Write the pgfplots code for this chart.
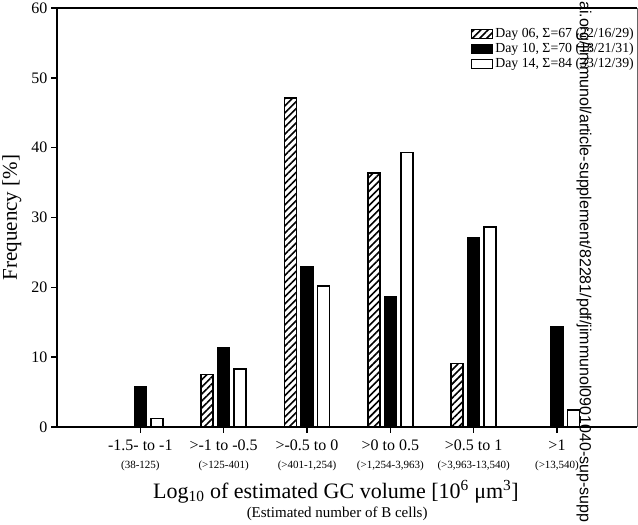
\documentclass[border=0pt]{standalone}
\usepackage{fontspec}
\setmainfont{Liberation Serif}
\newfontfamily\wmfont{Liberation Sans}
\usepackage{pgfplots}
\usepackage{pgfplotstable}
\pgfplotsset{compat=1.18}
\usetikzlibrary{patterns.meta}

% percent of GCs per volume class (x = class index)
\pgfplotstableread{
x d06 d10 d14
0 0 5.7 1.2
1 7.5 11.4 8.3
2 47.1 22.9 20.2
3 36.4 18.6 39.3
4 9.1 27.1 28.6
5 0 14.3 2.4
}\freq

\pgfplotsset{
  boxleg/.style={legend image code/.code={%
    \draw[##1, line width=1pt] (0pt,-4.5pt) rectangle (21pt,4.5pt);}},
}

\begin{document}
\begin{tikzpicture}
\begin{axis}[
  scale only axis, width=580pt, height=419pt,
  clip=false,
  axis x line*=bottom, axis y line*=left,
  axis line style={line width=1.8pt},
  xmin=-1, xmax=5.96, ymin=0, ymax=60,
  ytick={0,10,...,60},
  xtick={0,...,5},
  xticklabels={
    {-1.5- to -1\\[1pt]{\fontsize{11}{12}\selectfont (38-125)}},
    {>-1 to -0.5\\[1pt]{\fontsize{11}{12}\selectfont (>125-401)}},
    {>-0.5 to 0\\[1pt]{\fontsize{11}{12}\selectfont (>401-1,254)}},
    {>0 to 0.5\\[1pt]{\fontsize{11}{12}\selectfont (>1,254-3,963)}},
    {>0.5 to 1\\[1pt]{\fontsize{11}{12}\selectfont (>3,963-13,540)}},
    {>1\\[1pt]{\fontsize{11}{12}\selectfont (>13,540)}}},
  xticklabel style={align=center, font=\fontsize{16}{17}\selectfont, yshift=-3pt},
  yticklabel style={font=\fontsize{16}{18}\selectfont},
  /pgf/number format/assume math mode=true,
  tick align=outside, major tick length=6pt,
  tick style={black, line width=1.5pt},
  ylabel={Frequency [\%]},
  every axis y label/.style={at={(axis description cs:-0.078,0.5)},
    rotate=90, anchor=center, font=\fontsize{21}{23}\selectfont},
  xlabel={Log\textsubscript{10} of estimated GC volume [10\textsuperscript{6} μm\textsuperscript{3}]},
  every axis x label/.style={at={(axis description cs:0.481,0)},
    anchor=center, yshift=-65pt, font=\fontsize{22}{24}\selectfont},
  ybar=4.5pt, bar width=12pt,
  legend style={draw=none, fill=none, at={(1,1)}, anchor=north east,
    yshift=-17pt, xshift=0pt, inner sep=1pt,
    font=\fontsize{13.8}{16}\selectfont, row sep=0pt,
    /tikz/every even column/.append style={column sep=2pt}},
  legend cell align=left,
]
\addplot[boxleg, draw=black, line width=1.6pt,
  pattern={Lines[angle=45, distance=5pt, line width=1.6pt]}]
  table[x=x, y=d06] {\freq};
\addplot[boxleg, draw=black, fill=black, line width=1.6pt]
  table[x=x, y=d10] {\freq};
\addplot[boxleg, draw=black, fill=white, line width=1.6pt]
  table[x=x, y=d14] {\freq};
\legend{{Day 06, Σ=67 (22/16/29)}, {Day 10, Σ=70 (18/21/31)}, {Day 14, Σ=84 (33/12/39)}}
\draw[line width=1.6pt] (rel axis cs:0,1) -- (rel axis cs:1,1);
\draw[black!60, line width=0.8pt] (rel axis cs:1,0) -- (rel axis cs:1,1);
\node[font=\fontsize{15}{17}\selectfont, anchor=center, yshift=-87pt]
  at (rel axis cs:0.483,0) {(Estimated number of B cells)};
\end{axis}
\node[font=\wmfont\fontsize{16}{16}\selectfont, text=black, rotate=-90,
  anchor=west, inner sep=0pt]
  at ([shift={(527pt,7pt)}]current axis.north west)
  {ai.org/jimmunol/article-supplement/82281/pdf/jimmunol0901040-sup-supp};
\pgfresetboundingbox
\useasboundingbox ([shift={(-57pt,-98pt)}]current axis.south west)
  rectangle ([shift={(1pt,8pt)}]current axis.north east);
\end{tikzpicture}
\end{document}
